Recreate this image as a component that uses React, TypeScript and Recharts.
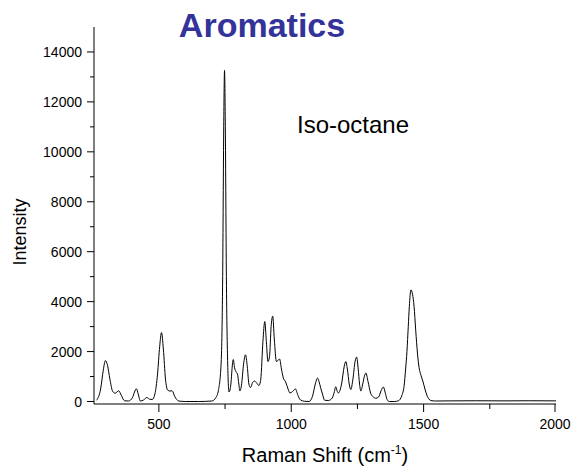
import { LineChart, Line, XAxis, YAxis } from 'recharts';

// Raman shift (cm-1) and intensity
const shifts = [
  265, 280, 290, 298, 306, 315, 325, 335, 348, 358, 370, 385, 400, 408, 415, 422, 430, 442, 455, 465,
  475, 485, 495, 503, 510, 517, 525, 533, 542, 550, 560, 575, 600, 650, 700, 715, 725, 735, 741, 745,
  748, 751, 755, 760, 765, 772, 778, 781, 786, 792, 797, 802, 806, 812, 820, 827, 834, 840, 846, 854,
  861, 868, 878, 885, 893, 900, 906, 912, 918, 924, 930, 936, 944, 950, 956, 963, 970, 979, 988, 995,
  1005, 1016, 1025, 1035, 1050, 1067, 1080, 1092, 1099, 1105, 1111, 1118, 1126, 1140, 1155, 1163, 1168, 1174, 1178, 1190,
  1200, 1206, 1212, 1219, 1225, 1233, 1241, 1247, 1253, 1258, 1263, 1270, 1276, 1282, 1290, 1300, 1310, 1319, 1330, 1340,
  1348, 1355, 1362, 1370, 1390, 1405, 1418, 1426, 1432, 1437, 1442, 1446, 1452, 1458, 1464, 1470, 1477, 1483, 1490, 1498,
  1505, 1512, 1520, 1527, 1545, 1600, 1700, 1800, 1900, 2000,
];
const intensities = [
  50, 500, 1250, 1640, 1450, 900, 420, 330, 430, 250, 30, 20, 150, 380, 510, 300, 20, 60, 160, 90,
  80, 300, 1100, 2200, 2760, 2100, 900, 460, 420, 430, 200, 20, 0, 0, 20, 150, 450, 1500, 5000, 11000,
  13260, 11000, 5000, 1500, 380, 700, 1500, 1680, 1350, 1180, 1100, 700, 420, 650, 1500, 1870, 1400, 700, 560, 760,
  820, 760, 640, 900, 2400, 3200, 2400, 1600, 1800, 3000, 3420, 2500, 1600, 1650, 1700, 1300, 950, 780, 500, 340,
  400, 500, 250, 60, 10, 0, 200, 750, 940, 800, 550, 300, 50, 40, 140, 400, 590, 400, 340, 700,
  1400, 1600, 1300, 700, 480, 900, 1600, 1780, 1300, 700, 420, 700, 1000, 1140, 800, 330, 180, 130, 180, 450,
  580, 350, 80, 0, 0, 30, 250, 600, 1300, 2000, 3000, 3800, 4470, 4300, 3800, 2870, 1900, 1350, 1050, 780,
  500, 260, 100, 40, 20, 25, 30, 25, 30, 25,
];

const xTicks = [500, 750, 1000, 1250, 1500, 1750, 2000];
const xLabels = [500, 1000, 1500, 2000];
const yTicks = [0, 1000, 2000, 3000, 4000, 5000, 6000, 7000, 8000, 9000, 10000, 11000, 12000, 13000, 14000];
const yLabels = [0, 2000, 4000, 6000, 8000, 10000, 12000, 14000];

const data = shifts.map((s, i) => ({ shift: s, intensity: intensities[i] }));

const FONT = '"Liberation Sans", Arial, sans-serif';

const XTick = ({ x, y, payload }: any) => {
  const major = xLabels.includes(payload.value);
  return (
    <g>
      <line x1={x} x2={x} y1={y} y2={y + (major ? 8 : 5)} stroke="#000" />
      {major && (
        <text x={x} y={y + 25} textAnchor="middle" fontSize={14} fontFamily={FONT} fill="#000">
          {payload.value}
        </text>
      )}
    </g>
  );
};

const YTick = ({ x, y, payload }: any) => {
  const major = yLabels.includes(payload.value);
  return (
    <g>
      <line x1={x - (major ? 7 : 4)} x2={x} y1={y} y2={y} stroke="#000" />
      {major && (
        <text x={x - 12} y={y + 5} textAnchor="end" fontSize={14} fontFamily={FONT} fill="#000">
          {payload.value}
        </text>
      )}
    </g>
  );
};

const XTitle = ({ viewBox }: any) => {
  const cx = viewBox.x + viewBox.width / 2;
  return (
    <text x={cx} y={462} textAnchor="middle" fontSize={20} fontFamily={FONT} fill="#000">
      Raman Shift (cm
      <tspan dy={-8} fontSize={12}>-1</tspan>
      <tspan dy={8}>)</tspan>
    </text>
  );
};

const YTitle = () => (
  <text x={26} y={232} transform="rotate(-90 26 232)" textAnchor="middle" fontSize={18} fontFamily={FONT} fill="#000">
    Intensity
  </text>
);

export default function App() {
  return (
    <div style={{ position: 'absolute', left: 0, top: 0, width: 571, height: 470, background: '#fff' }}>
      <LineChart width={571} height={470} data={data} margin={{ top: 27, right: 15, left: 0, bottom: 36 }}>
        <XAxis
          dataKey="shift"
          type="number"
          domain={[255, 2000]}
          ticks={xTicks}
          allowDataOverflow
          height={30}
          tickSize={0}
          tickMargin={0}
          tickLine={false}
          tick={<XTick />}
          axisLine={{ stroke: '#000' }}
          label={<XTitle />}
        />
        <YAxis
          type="number"
          domain={[-100, 15000]}
          ticks={yTicks}
          allowDataOverflow
          width={94}
          tickSize={0}
          tickMargin={0}
          tickLine={false}
          tick={<YTick />}
          axisLine={{ stroke: '#000' }}
          interval={0}
          label={<YTitle />}
        />
        <Line
          type="monotone"
          dataKey="intensity"
          stroke="#000"
          strokeWidth={1}
          dot={false}
          isAnimationActive={false}
        />
      </LineChart>
      <div
        style={{
          position: 'absolute', left: 262, top: 8, transform: 'translateX(-50%)',
          fontFamily: FONT, fontWeight: 'bold', fontSize: 34, color: '#333399', whiteSpace: 'nowrap', lineHeight: 1,
        }}
      >
        Aromatics
      </div>
      <div
        style={{
          position: 'absolute', left: 297, top: 113, fontFamily: FONT, fontSize: 24,
          color: '#000', whiteSpace: 'nowrap', lineHeight: 1,
        }}
      >
        Iso-octane
      </div>
    </div>
  );
}
